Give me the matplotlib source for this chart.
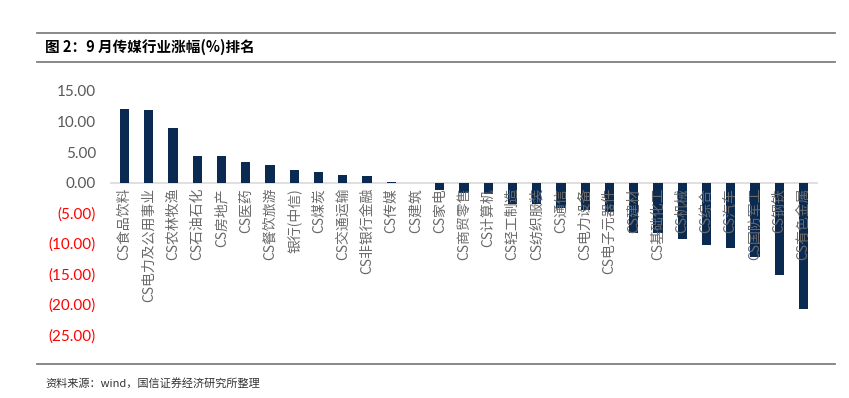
import numpy as np
import matplotlib.pyplot as plt
from matplotlib.lines import Line2D

plt.rcParams['font.family'] = ['Noto Sans CJK SC', 'DejaVu Sans']

categories = ['CS食品饮料', 'CS电力及公用事业', 'CS农林牧渔', 'CS石油石化', 'CS房地产',
              'CS医药', 'CS餐饮旅游', '银行(中信)', 'CS煤炭', 'CS交通运输',
              'CS非银行金融', 'CS传媒', 'CS建筑', 'CS家电', 'CS商贸零售',
              'CS计算机', 'CS轻工制造', 'CS纺织服装', 'CS通信', 'CS电力设备',
              'CS电子元器件', 'CS建材', 'CS基础化工', 'CS机械', 'CS综合',
              'CS汽车', 'CS国防军工', 'CS钢铁', 'CS有色金属']
values = [12.0, 11.9, 9.0, 4.4, 4.3, 3.3, 2.8, 2.1, 1.8, 1.3,
          1.0, 0.15, -0.08, -1.2, -1.8, -1.9, -3.5, -3.5, -4.1, -4.5,
          -4.8, -8.2, -8.3, -9.2, -10.3, -10.7, -12.2, -15.2, -20.7]
yticks = [15, 10, 5, 0, -5, -10, -15, -20, -25]

fig = plt.figure(figsize=(8.49, 3.98), dpi=100)
ax = fig.add_axes([110 / 849, 63 / 398, 708 / 849, 244 / 398])

x = np.arange(len(categories))
ax.bar(x, values, width=0.38, color='#0B2A52', zorder=2)
ax.axhline(0, color='#D9D9D9', lw=1.2, zorder=1)

ax.set_xlim(-0.6, len(categories) - 0.4)
ax.set_ylim(-25, 15)
ax.set_yticks(yticks)
ylabels = []
for v in yticks:
    ylabels.append('%.2f' % v if v >= 0 else '(%.2f)' % abs(v))
ax.set_yticklabels(ylabels, fontsize=11, family=['Lato'])
for t, v in zip(ax.get_yticklabels(), yticks):
    t.set_color('#595959' if v >= 0 else '#FF0000')

ax.set_xticks([])
for xi, lab in zip(x, categories):
    ax.text(xi, -0.9, lab, rotation=90, ha='center', va='top',
            fontsize=10, color='#6A6A6A', zorder=3)

ax.tick_params(axis='y', length=0, pad=10)
for s in ax.spines.values():
    s.set_visible(False)

# header / footer rules and text
for yy in [33, 62, 364]:
    fig.add_artist(Line2D([37 / 849, 835 / 849], [1 - yy / 398, 1 - yy / 398],
                          color='#7F7F7F', lw=1.3))
fig.text(45 / 849, 1 - 47 / 398, '图 2：9 月传媒行业涨幅(%)排名', fontsize=10.5,
         fontweight='bold', va='center', ha='left')
fig.text(45 / 849, 1 - 383 / 398, '资料来源：wind，国信证券经济研究所整理', fontsize=8,
         va='center', ha='left', color='#333333')

fig.savefig('out.png', dpi=100)
